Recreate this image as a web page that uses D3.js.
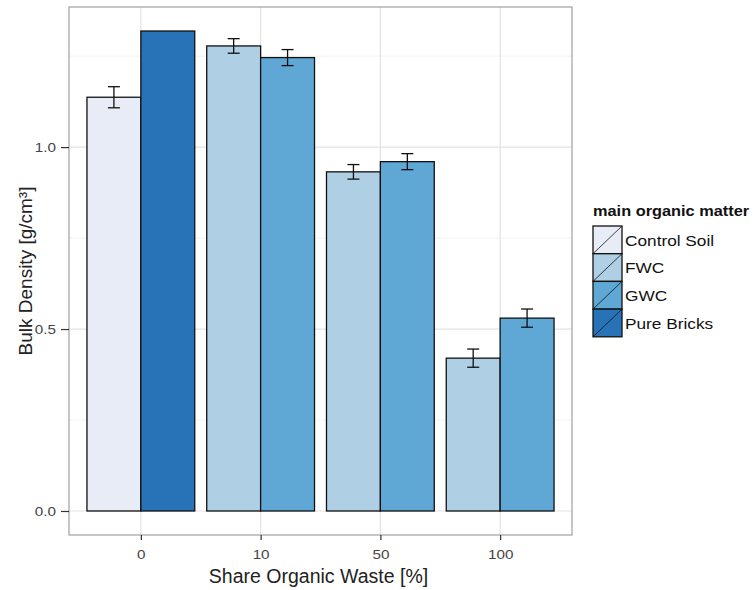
<!DOCTYPE html>
<html lang="en">
<head>
    <meta charset="utf-8">
    <title>Bulk Density</title>
    <script src="https://d3js.org/d3.v7.min.js"></script>
    <style>
        body, html { margin: 0; padding: 0; background: #fff; }
        text { font-family: "Liberation Sans", Arial, sans-serif; }
        .tick-label { font-size: 13.5px; fill: #444; }
        .x-title { font-size: 19.5px; fill: #222; }
        .y-title { font-size: 19px; fill: #222; }
        .legend-title { font-size: 15px; font-weight: bold; fill: #111; }
        .legend-label { font-size: 15px; fill: #111; }
    </style>
</head>
<body>
    <svg width="753" height="590"></svg>
    <script>
        // data
        var shares = ["0", "10", "50", "100"];
        var groups = ["Control Soil", "FWC", "GWC", "Pure Bricks"];
        var colors = ["#e8ecf7", "#aecfe4", "#5fa8d6", "#2873b8"];
        var barShare = ["0", "0", "10", "10", "50", "50", "100", "100"];
        var barGroup = ["Control Soil", "Pure Bricks", "FWC", "GWC", "FWC", "GWC", "FWC", "GWC"];
        var barValue = [1.137, 1.319, 1.278, 1.246, 0.932, 0.960, 0.420, 0.530];
        var barError = [0.029, null, 0.020, 0.022, 0.020, 0.022, 0.025, 0.025];
        var yTicks = [0.0, 0.5, 1.0];
        var yMinor = [0.25, 0.75, 1.25];

        var svg = d3.select("svg"),
            pLeft = 69, pRight = 572, pTop = 7, pBottom = 535,
            sx = 1.13; // tick / legend text in the reference is a bit wider than tall

        var x = d3.scalePoint().domain(shares).range([pLeft, pRight]).padding(0.6);
        var step = x.step();
        var y = d3.scaleLinear().domain([-0.066, 1.385]).range([pBottom, pTop]);
        var fill = d3.scaleOrdinal().domain(groups).range(colors);

        // panel background + grid
        svg.append("rect").attr("x", pLeft).attr("y", pTop)
            .attr("width", pRight - pLeft).attr("height", pBottom - pTop).attr("fill", "#fff");

        svg.selectAll(".minor").data(yMinor).enter().append("line")
            .attr("x1", pLeft).attr("x2", pRight)
            .attr("y1", function (d) { return y(d); }).attr("y2", function (d) { return y(d); })
            .attr("stroke", "#f2f2f2").attr("stroke-width", 1);
        svg.selectAll(".major").data(yTicks).enter().append("line")
            .attr("x1", pLeft).attr("x2", pRight)
            .attr("y1", function (d) { return y(d); }).attr("y2", function (d) { return y(d); })
            .attr("stroke", "#e3e3e3").attr("stroke-width", 1.2);
        svg.selectAll(".vmajor").data(shares).enter().append("line")
            .attr("y1", pTop).attr("y2", pBottom)
            .attr("x1", function (d) { return x(d); }).attr("x2", function (d) { return x(d); })
            .attr("stroke", "#e3e3e3").attr("stroke-width", 1.2);

        // bars (dodged, 0.9 of step)
        var half = step * 0.9 / 2;
        var bars = barValue.map(function (v, i) {
            var cx = x(barShare[i]);
            var pos = (i % 2 === 0) ? cx - half : cx;
            return { value: v, err: barError[i], group: barGroup[i], x0: pos, w: half };
        });

        svg.selectAll(".bar").data(bars).enter().append("rect")
            .attr("x", function (d) { return d.x0; })
            .attr("y", function (d) { return y(d.value); })
            .attr("width", function (d) { return d.w; })
            .attr("height", function (d) { return y(0) - y(d.value); })
            .attr("fill", function (d) { return fill(d.group); })
            .attr("stroke", "#111").attr("stroke-width", 1.3);

        // error bars
        var eb = svg.selectAll(".err").data(bars.filter(function (d) { return d.err; })).enter().append("g")
            .attr("stroke", "#111").attr("stroke-width", 1.3);
        eb.append("line")
            .attr("x1", function (d) { return d.x0 + d.w / 2; }).attr("x2", function (d) { return d.x0 + d.w / 2; })
            .attr("y1", function (d) { return y(d.value + d.err); }).attr("y2", function (d) { return y(d.value - d.err); });
        [1, -1].forEach(function (s) {
            eb.append("line")
                .attr("x1", function (d) { return d.x0 + d.w / 2 - 6; }).attr("x2", function (d) { return d.x0 + d.w / 2 + 6; })
                .attr("y1", function (d) { return y(d.value + s * d.err); }).attr("y2", function (d) { return y(d.value + s * d.err); });
        });

        // panel border
        svg.append("rect").attr("x", pLeft).attr("y", pTop)
            .attr("width", pRight - pLeft).attr("height", pBottom - pTop)
            .attr("fill", "none").attr("stroke", "#a0a0a0").attr("stroke-width", 1.2);

        // axes
        var yAxis = svg.append("g").attr("transform", "translate(" + pLeft + ",0)")
            .call(d3.axisLeft(y).tickValues(yTicks).tickFormat(d3.format(".1f")).tickSize(8).tickPadding(4));
        var xAxis = svg.append("g").attr("transform", "translate(0," + pBottom + ")")
            .call(d3.axisBottom(x).tickSize(5).tickPadding(9));
        [yAxis, xAxis].forEach(function (a) {
            a.attr("font-family", null).attr("font-size", null);
            a.select(".domain").remove();
            a.selectAll(".tick line").attr("stroke", "#333").attr("stroke-width", 1.2);
            a.selectAll(".tick text").attr("class", "tick-label");
        });
        yAxis.selectAll(".tick text").attr("x", -13 / sx).attr("transform", "scale(" + sx + ",1)");
        xAxis.selectAll(".tick text").attr("transform", "scale(" + sx + ",1)");

        var yTitle = svg.append("g").attr("transform", "translate(32,271) rotate(-90)");
        yTitle.append("text").attr("class", "y-title")
            .attr("text-anchor", "middle").text("Bulk Density [g/cm³]");
        svg.append("text").attr("class", "x-title")
            .attr("x", (pLeft + pRight) / 2 - 2).attr("y", 583)
            .attr("text-anchor", "middle").text("Share Organic Waste [%]");

        // legend
        var kh = 27.7;
        var lg = svg.append("g").attr("transform", "translate(593,226)");
        lg.append("text").attr("class", "legend-title")
            .attr("transform", "translate(0,-10) scale(1.09,1)").text("main organic matter");
        var key = lg.selectAll(".key").data(groups).enter().append("g")
            .attr("transform", function (d, i) { return "translate(0," + i * kh + ")"; });
        key.append("rect").attr("width", 29).attr("height", kh)
            .attr("fill", function (d) { return fill(d); })
            .attr("stroke", "#111").attr("stroke-width", 1.3);
        key.append("line").attr("x1", 0).attr("y1", kh).attr("x2", 29).attr("y2", 0)
            .attr("stroke", "#111").attr("stroke-width", 0.8);
        key.append("text").attr("class", "legend-label")
            .attr("transform", "translate(32,19.5) scale(1.15,1)").text(function (d) { return d; });
    </script>
</body>
</html>
